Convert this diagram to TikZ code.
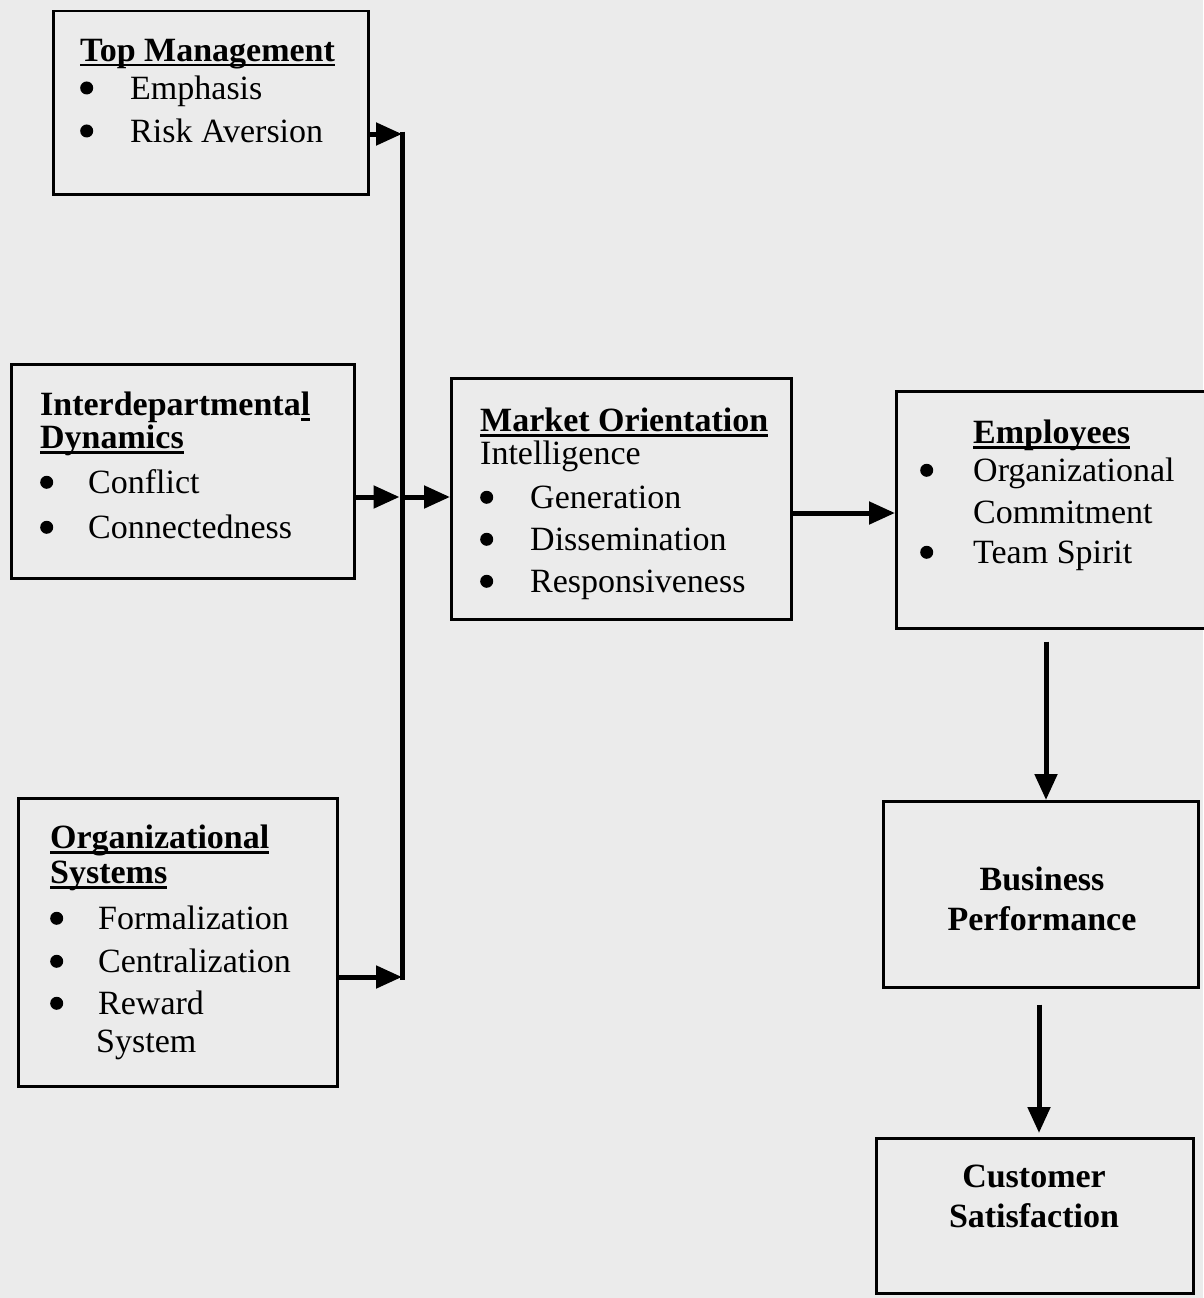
\documentclass[tikz,border=0pt]{standalone}
\usepackage{fontspec}
\setmainfont{Liberation Serif}
\usetikzlibrary{arrows.meta}
\definecolor{paper}{HTML}{EBEBEB}
\newcommand\myul[1]{\setbox0\hbox{#1}\rlap{\rule[-5pt]{\wd0}{2.5pt}}\box0}
\newcommand\dotmark{\tikz[baseline=0pt]\fill[black] (6.5pt,11.5pt) circle[radius=6.5pt];}
\newcommand\blt[1][50pt]{\makebox[#1][l]{\dotmark}}
\begin{document}
\begin{tikzpicture}[x=1pt,y=-1pt,
  box/.style={draw, line width=2.5pt, fill=paper, anchor=north west, inner sep=0},
  txt/.style={anchor=north west, align=left, inner sep=0, font=\fontsize{34}{43}\selectfont},
  ctxt/.style={anchor=north, align=center, inner sep=0, font=\fontsize{34}{40}\selectfont\bfseries},
  link/.style={line width=5pt},
  arr/.style={line width=5pt, -{Triangle[length=26pt,width=22pt]}}]
\fill[paper] (0,0) rectangle (1203,1298);
\useasboundingbox (0,0) rectangle (1203,1298);

% boxes
\node[box, minimum width=315pt, minimum height=183pt] (tm) at (52,10) {};
\node[box, minimum width=343pt, minimum height=214pt] (id) at (10,363) {};
\node[box, minimum width=319pt, minimum height=288pt] (os) at (17,797) {};
\node[box, minimum width=340pt, minimum height=241pt] (mo) at (450,377) {};
\node[box, minimum width=320pt, minimum height=237pt] (emp) at (895,390) {};
\node[box, minimum width=315pt, minimum height=186pt] (bp) at (882,800) {};
\node[box, minimum width=317pt, minimum height=155pt] (cs) at (875,1137) {};

% texts
\node[txt] (tmt) at (80,39) {\myul{\textbf{Top Management}}\\[-5pt]
  \blt Emphasis\\ \blt Risk Aversion};
\node[txt, font=\fontsize{34}{45}\selectfont] (idt) at (40,392) {\textbf{Interdepartmenta\myul{l}}\\[-12pt]
  \myul{\textbf{Dynamics}}\\ \blt[48pt]Conflict\\ \blt[48pt]Connectedness};
\node[txt] (ost) at (50,825) {\myul{\textbf{Organizational}}\\[-8pt]
  \myul{\textbf{Systems}}\\[3pt] \blt[48pt]Formalization\\ \blt[48pt]Centralization\\[-1pt]
  \blt[48pt]Reward\\[-5pt] \hspace*{46pt}System};
\node[txt, font=\fontsize{34}{42}\selectfont] (mot) at (480,408) {\myul{\textbf{Market Orientation}}\\[-9pt]
  Intelligence\\[2pt] \blt Generation\\ \blt Dissemination\\ \blt Responsiveness};
\node[txt, font=\fontsize{34}{40}\selectfont] (empt) at (920,420) {\hspace*{53pt}\myul{\textbf{Employees}}\\[-2pt]
  \blt[53pt]Organizational\\[2pt] \hspace*{53pt}Commitment\\ \blt[53pt]Team Spirit};
\node[ctxt] (bpt) at (1042,867) {Business\\Performance};
\node[ctxt] (cst) at (1034,1165) {Customer\\Satisfaction};

% connectors
\coordinate (jt) at (402,134);
\coordinate (jm) at (402,497);
\coordinate (jb) at (402,977);
\coordinate (jr) at (0,513);
\coordinate (ed) at (1046,0);
\coordinate (bd) at (1039,0);
\draw[link] ([yshift=2.5pt]jt) -- ([yshift=-2.5pt]jb);
\draw[arr] (tm.east |- jt) -- (jt);
\draw[arr] (id.east |- jm) -- ([xshift=-2.5pt]jm);
\draw[arr] ([xshift=2.5pt]jm) -- (mo.west |- jm);
\draw[arr] (os.east |- jb) -- (jb);
\draw[arr] (mo.east |- jr) -- (emp.west |- jr);
\draw[arr, shorten <=12pt] (emp.south -| ed) -- (bp.north -| ed);
\draw[arr, shorten <=16pt, shorten >=4pt] (bp.south -| bd) -- (cs.north -| bd);
\end{tikzpicture}
\end{document}
